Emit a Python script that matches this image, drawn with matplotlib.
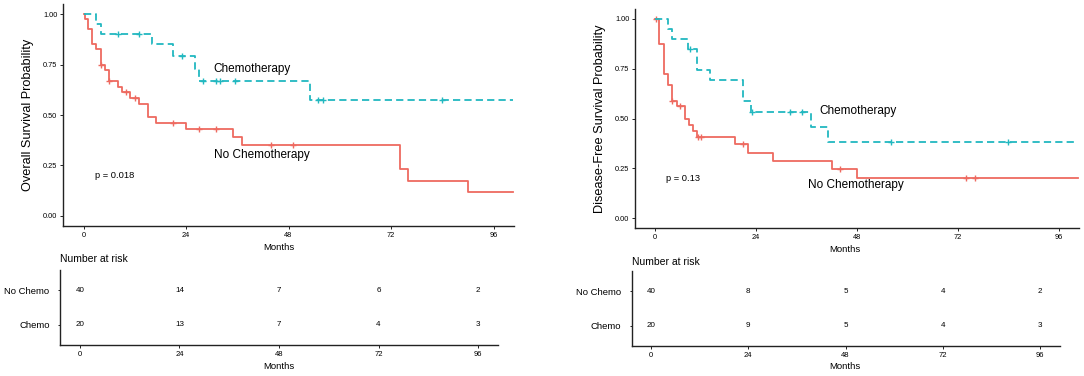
import numpy as np
import matplotlib
matplotlib.use("Agg")
import matplotlib.pyplot as plt

plt.rcParams['font.family'] = ['Liberation Sans', 'DejaVu Sans']

# ---------------- data ----------------
# Overall survival
os_nochemo_t = [0, 0.3, 1, 2, 3, 4, 5, 6, 8, 9, 11, 13, 15, 17, 24, 35, 37, 74, 76, 90, 100.5]
os_nochemo_s = [1.0, 0.975, 0.925, 0.85, 0.825, 0.75, 0.725, 0.67, 0.64, 0.615, 0.585, 0.556,
                0.49, 0.46, 0.43, 0.39, 0.35, 0.233, 0.175, 0.117, 0.117]
os_nochemo_cens = [4, 6, 10, 12, 21, 27, 31, 44, 49]

os_chemo_t = [0, 3, 4, 16, 21, 26, 27, 53, 100.5]
os_chemo_s = [1.0, 0.95, 0.90, 0.85, 0.79, 0.727, 0.667, 0.572, 0.572]
os_chemo_cens = [8, 13, 23, 28, 31, 32, 35.5, 55, 56, 84]

# Disease-free survival
dfs_nochemo_t = [0, 1, 2, 3, 4, 5.2, 7, 8, 9, 10, 19, 22, 28, 42, 48, 100.5]
dfs_nochemo_s = [1.0, 0.875, 0.725, 0.67, 0.59, 0.563, 0.50, 0.467, 0.438, 0.408, 0.37,
                 0.328, 0.288, 0.246, 0.199, 0.199]
dfs_nochemo_cens = [0.2, 4, 6, 10.2, 10.8, 21, 44, 74, 76]

dfs_chemo_t = [0, 3, 4, 7.9, 10, 13, 21, 22.8, 37, 41, 100.5]
dfs_chemo_s = [1.0, 0.95, 0.90, 0.85, 0.744, 0.694, 0.59, 0.534, 0.459, 0.383, 0.383]
dfs_chemo_cens = [8.2, 23, 32, 35, 56, 84]

risk_times = [0, 24, 48, 72, 96]
risk_groups = ["No Chemo", "Chemo"]
os_risk_nochemo = [40, 14, 7, 6, 2]
os_risk_chemo = [20, 13, 7, 4, 3]
dfs_risk_nochemo = [40, 8, 5, 4, 2]
dfs_risk_chemo = [20, 9, 5, 4, 3]

group_labels = ["Chemotherapy", "No Chemotherapy"]
os_pvalue = "p = 0.018"
dfs_pvalue = "p = 0.13"

RED = "#EE6A60"
CYAN = "#22B8C0"
XLIM = (-4.8, 100.8)

W, H = 1084, 376
fig = plt.figure(figsize=(W / 100, H / 100), dpi=100)


def fbox(x0, y0, x1, y1):
    return [x0 / W, 1 - y1 / H, (x1 - x0) / W, (y1 - y0) / H]


def style_axes(ax):
    for s in ['top', 'right']:
        ax.spines[s].set_visible(False)
    for s in ['left', 'bottom']:
        ax.spines[s].set_linewidth(1.0)
        ax.spines[s].set_color('#222222')
    ax.tick_params(length=2.5, width=0.7, colors='#222222', labelcolor='black')


def km(ax, t, s, cens, color, ls):
    ax.step(t, s, where='post', color=color, lw=1.3, linestyle=ls)
    t_arr = np.asarray(t)
    s_arr = np.asarray(s)
    idx = np.searchsorted(t_arr, np.asarray(cens), side='right') - 1
    ax.plot(cens, s_arr[idx], linestyle='none', marker='+', color=color,
            markersize=5, mew=1.0)


def main_panel(box, ylabel, nochemo, chemo, texts, ylab_x):
    ax = fig.add_axes(fbox(*box))
    km(ax, *nochemo, RED, '-')
    km(ax, *chemo, CYAN, (0, (4.0, 2.3)))
    ax.set_xlim(*XLIM)
    ax.set_ylim(-0.05, 1.05)
    ax.set_xticks(risk_times)
    ax.set_yticks([0, 0.25, 0.5, 0.75, 1.0])
    ax.set_yticklabels(["0.00", "0.25", "0.50", "0.75", "1.00"])
    style_axes(ax)
    ax.tick_params(labelsize=5.3, pad=1.5)
    for (x, y, txt, size, ha) in texts:
        ax.text(x, y, txt, fontsize=size, ha=ha, va='center')
    fig.text(ylab_x / W, 1 - ((box[1] + box[3]) / 2) / H, ylabel, rotation=90,
             fontsize=9.2, ha='center', va='center')
    return ax


def risk_panel(box, nochemo, chemo, months_x, title_y):
    ax = fig.add_axes(fbox(*box))
    ax.set_xlim(*XLIM)
    ax.set_ylim(0.4, 2.6)
    for x, a, b in zip(risk_times, nochemo, chemo):
        ax.text(x, 2, str(a), fontsize=5.8, ha='center', va='center')
        ax.text(x, 1, str(b), fontsize=5.8, ha='center', va='center')
    ax.set_xticks(risk_times)
    ax.set_yticks([2, 1])
    ax.set_yticklabels(risk_groups)
    style_axes(ax)
    ax.tick_params(axis='x', labelsize=5.5, pad=1.5)
    ax.tick_params(axis='y', labelsize=6.8, pad=6, length=1.5)
    fig.text(box[0] / W, 1 - title_y / H, "Number at risk", fontsize=7.5,
             ha='left', va='center')
    fig.text(months_x / W, 1 - 366.7 / H, "Months", fontsize=6.8, ha='center', va='center')
    return ax


# left: overall survival
main_panel((63, 4, 514, 226), "Overall Survival Probability",
           (os_nochemo_t, os_nochemo_s, os_nochemo_cens),
           (os_chemo_t, os_chemo_s, os_chemo_cens),
           [(30.4, 0.73, group_labels[0], 8.5, 'left'),
            (41.7, 0.30, group_labels[1], 8.5, 'center'),
            (2.8, 0.20, os_pvalue, 6.7, 'left')], 28)
fig.text(279 / W, 1 - 247.3 / H, "Months", fontsize=6.8, ha='center', va='center')
risk_panel((60, 270, 498, 345), os_risk_nochemo, os_risk_chemo, 279, 259)

# right: disease-free survival
main_panel((635, 9, 1079, 228), "Disease-Free Survival Probability",
           (dfs_nochemo_t, dfs_nochemo_s, dfs_nochemo_cens),
           (dfs_chemo_t, dfs_chemo_s, dfs_chemo_cens),
           [(39.0, 0.538, group_labels[0], 8.5, 'left'),
            (47.8, 0.166, group_labels[1], 8.5, 'center'),
            (2.6, 0.20, dfs_pvalue, 6.7, 'left')], 600)
fig.text(845 / W, 1 - 249.3 / H, "Months", fontsize=6.8, ha='center', va='center')
risk_panel((631.5, 271, 1059.5, 346), dfs_risk_nochemo, dfs_risk_chemo, 845, 261.7)

fig.savefig("out.png", dpi=100)
